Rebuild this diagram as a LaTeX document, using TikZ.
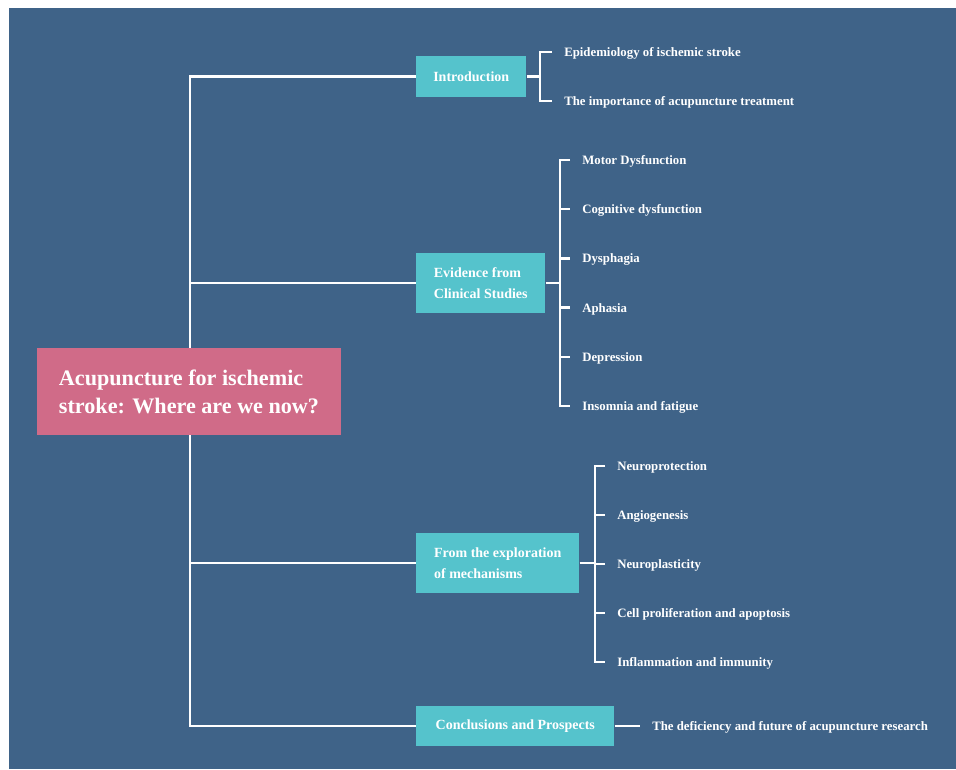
\documentclass[tikz,border=0pt]{standalone}
\usepackage{fontspec}
\setmainfont{Liberation Serif}
\definecolor{bgblue}{HTML}{3F6388}
\definecolor{teal}{HTML}{55C3CC}
\definecolor{rosebox}{HTML}{D06B88}
\pgfdeclarelayer{bg}
\pgfdeclarelayer{lines}
\pgfsetlayers{bg,lines,main}
\begin{document}
\begin{tikzpicture}[x=0.75pt,y=-0.75pt,
  conn/.style={draw=white,line width=1.9pt},
  rootbox/.style={fill=rosebox,text=white,inner sep=0pt,minimum width=228pt,minimum height=65.25pt,
    font=\bfseries\fontsize{16.6}{21}\selectfont,align=left},
  topic/.style={fill=teal,text=white,inner sep=0pt,anchor=west,
    font=\bfseries\fontsize{10.5}{15.5}\selectfont,align=left},
  leaf/.style={text=white,anchor=west,inner ysep=1pt,inner xsep=9pt,
    text height=8pt,text depth=1.2pt,
    font=\bfseries\fontsize{9.6}{11}\selectfont}]
\useasboundingbox (0,0) rectangle (956,769);
\begin{pgfonlayer}{bg}
\fill[white] (0,0) rectangle (956,769);
\fill[bgblue] (9,8) rectangle (956,769);
\end{pgfonlayer}

% root
\node[rootbox] (root) at (189,391.5) {Acupuncture for ischemic\\stroke: Where are we now?};

% topics
\node[topic,minimum width=82.5pt,minimum height=30.75pt] (intro) at (416,76.5) {Introduction};
\node[topic,minimum width=96.75pt,minimum height=45pt] (evid) at (416,283) {Evidence from\\Clinical Studies};
\node[topic,minimum width=122.25pt,minimum height=45pt] (expl) at (416,563) {From the exploration\\of mechanisms};
\node[topic,minimum width=148.5pt,minimum height=30pt] (concl) at (416,726) {Conclusions and Prospects};

% leaves
\node[leaf] (i1) at (552,52) {Epidemiology of ischemic stroke};
\node[leaf] (i2) at (552,101) {The importance of acupuncture treatment};

\node[leaf] (e1) at (570,160) {Motor Dysfunction};
\node[leaf] (e2) at (570,209.2) {Cognitive dysfunction};
\node[leaf] (e3) at (570,258.4) {Dysphagia};
\node[leaf] (e4) at (570,307.6) {Aphasia};
\node[leaf] (e5) at (570,356.8) {Depression};
\node[leaf] (e6) at (570,406) {Insomnia and fatigue};

\node[leaf] (x1) at (605,466) {Neuroprotection};
\node[leaf] (x2) at (605,515) {Angiogenesis};
\node[leaf] (x3) at (605,564) {Neuroplasticity};
\node[leaf] (x4) at (605,613) {Cell proliferation and apoptosis};
\node[leaf] (x5) at (605,662) {Inflammation and immunity};

\node[leaf] (c1) at (640,726) {The deficiency and future of acupuncture research};

\coordinate (trunk) at (190,400);
\coordinate (ib) at (540,76.5);
\coordinate (eb) at (560,283);
\coordinate (xb) at (595,563);

\begin{pgfonlayer}{lines}
% trunk
\draw[conn] (intro.west) -| (trunk) |- (concl.west);
\draw[conn] (trunk |- evid.west) -- (evid.west);
\draw[conn] (trunk |- expl.west) -- (expl.west);
\draw[conn] (root.north) -- (root.south);
% intro
\draw[conn] (intro.east) -- (ib);
\draw[conn] (i1.west) -| (ib) |- (i2.west);
% evidence
\draw[conn] (evid.east) -- (eb);
\draw[conn] (e1.west) -| (eb) |- (e6.west);
\foreach \n in {e2,e3,e4,e5} \draw[conn] (eb |- \n.west) -- (\n.west);
% exploration
\draw[conn] (expl.east) -- (xb);
\draw[conn] (x1.west) -| (xb) |- (x5.west);
\foreach \n in {x2,x3,x4} \draw[conn] (xb |- \n.west) -- (\n.west);
% conclusions
\draw[conn] (concl.east) -- (c1.west);
\end{pgfonlayer}
\end{tikzpicture}
\end{document}
